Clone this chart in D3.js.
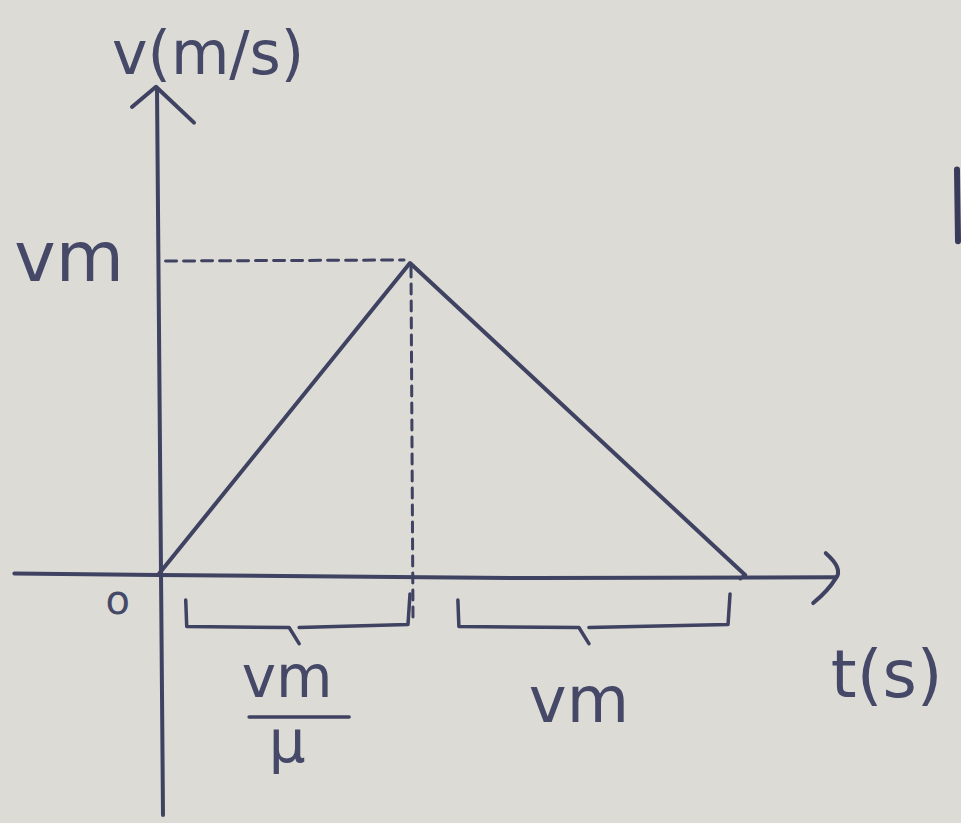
<!DOCTYPE html>
<html>
<head>
<meta charset="utf-8">
<script src="https://cdn.jsdelivr.net/npm/d3@7/dist/d3.min.js"></script>
<style>
  html, body { margin: 0; padding: 0; background: #dcdbd6; }
  svg { display: block; }
  text { font-family: "DejaVu Sans", sans-serif; fill: #454866; }
</style>
</head>
<body>
<script>
// Velocity-time profile: speed rises linearly to vm, then falls back to zero.
const timePoints = [0, 1, 2.33];          // t (in units of vm/μ)
const speedPoints = [0, 1, 0];            // v (in units of vm)
const peakTime = 1, peakSpeed = 1;
// Bracketed intervals on the time axis and their labels
const intervals = [
  { from: 0.11, to: 1.0,  tip: 0.56, label: "vm", sub: "μ" },
  { from: 1.19, to: 2.27, tip: 1.71, label: "vm", sub: null }
];
const axisLabels = { y: "v(m/s)", x: "t(s)", origin: "o", peak: "vm" };

const W = 961, H = 823;
const ink = "#3f4261";

const x = d3.scaleLinear().domain([0, 1]).range([158, 410]);
const y = d3.scaleLinear().domain([0, 1]).range([575, 263]);

const svg = d3.select("body").append("svg").attr("width", W).attr("height", H);
svg.append("rect").attr("width", W).attr("height", H).attr("fill", "#dcdbd6");

const g = svg.append("g")
  .attr("stroke", ink).attr("fill", "none")
  .attr("stroke-linecap", "round").attr("stroke-linejoin", "round");

// y axis with open arrowhead
g.append("path").attr("stroke-width", 4)
  .attr("d", `M${x(0) - 1},${y(1.56)} L${x(0) + 5},${H - 8}`);
g.append("path").attr("stroke-width", 4)
  .attr("d", `M${x(0) - 26},${y(1.50)} L${x(0) - 2},${y(1.565)} L${x(0) + 36},${y(1.45)}`);

// x axis with open arrowhead
g.append("path").attr("stroke-width", 4)
  .attr("d", `M${x(-0.57)},${y(0.005)} L${x(0)},${y(0)} L${x(1.5)},${y(-0.01)} L${x(2.69)},${y(-0.007)}`);
g.append("path").attr("stroke-width", 4)
  .attr("d", `M${x(2.65)},${y(0.07)} Q${x(2.72)},${y(0.02)} ${x(2.69)},${y(-0.01)} Q${x(2.66)},${y(-0.05)} ${x(2.6)},${y(-0.09)}`);

// guide lines to the peak
g.append("path").attr("stroke-width", 3).attr("stroke-dasharray", "11 7")
  .attr("d", `M${x(0.03)},${y(peakSpeed) - 2} L${x(peakTime) - 6},${y(peakSpeed) - 3}`);
g.append("path").attr("stroke-width", 3).attr("stroke-dasharray", "10 7")
  .attr("d", `M${x(peakTime) + 1},${y(peakSpeed) + 4} L${x(peakTime) + 3},${y(-0.14)}`);

// velocity profile
const line = d3.line().x((d, i) => x(timePoints[i])).y(d => y(d));
g.append("path").attr("stroke-width", 4).attr("d", line(speedPoints));
// small closing hook at the end of the descent
g.append("path").attr("stroke-width", 3.5)
  .attr("d", `M${x(2.33)},${y(0)} L${x(2.31)},${y(-0.012)}`);

// brackets under the time axis
intervals.forEach(iv => {
  const yTop = y(-0.08), yBot = y(-0.165), yTip = y(-0.22);
  const a = x(iv.from), b = x(iv.to), m = x(iv.tip);
  g.append("path").attr("stroke-width", 3.5)
    .attr("d", `M${a},${yTop} L${a + 1},${yBot} L${m - 10},${yBot + 1} L${m},${yTip}
                M${m},${yBot + 1} L${b - 2},${yBot - 2} L${b},${yTop - 6}`);
});

// text labels
const t = svg.append("g");
t.append("text").attr("x", x(0) - 46).attr("y", y(1.605)).attr("font-size", 60)
  .attr("text-anchor", "start").text(axisLabels.y);
t.append("text").attr("x", x(-0.57)).attr("y", y(peakSpeed) + 18).attr("font-size", 70)
  .text(axisLabels.peak);
t.append("text").attr("x", x(-0.16)).attr("y", y(-0.125)).attr("font-size", 40)
  .attr("text-anchor", "middle").text(axisLabels.origin);
t.append("text").attr("x", x(2.67)).attr("y", y(-0.39)).attr("font-size", 66)
  .text(axisLabels.x);

intervals.forEach(iv => {
  const cx = x(iv.tip);
  if (iv.sub) {
    t.append("text").attr("x", cx - 12).attr("y", y(-0.39)).attr("font-size", 58)
      .attr("text-anchor", "middle").text(iv.label);
    g.append("path").attr("stroke-width", 3.5)
      .attr("d", `M${cx - 50},${y(-0.455)} L${cx + 50},${y(-0.455)}`);
    t.append("text").attr("x", cx - 12).attr("y", y(-0.6)).attr("font-size", 58)
      .attr("text-anchor", "middle").text(iv.sub);
  } else {
    t.append("text").attr("x", cx - 10).attr("y", y(-0.47)).attr("font-size", 64)
      .attr("text-anchor", "middle").text(iv.label);
  }
});

// stray pen stroke at the right margin
g.append("path").attr("stroke-width", 6).attr("stroke", "#3a3a5a")
  .attr("d", `M${W - 4},${y(1.3)} L${W - 3},${y(1.07)}`);
</script>
</body>
</html>
